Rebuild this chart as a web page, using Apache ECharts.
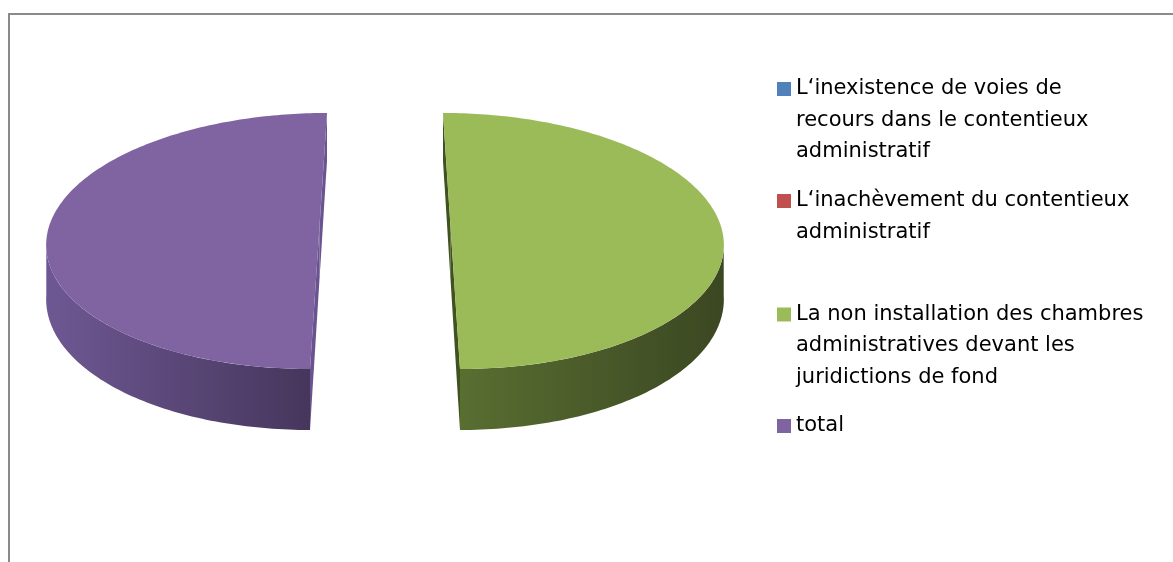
<!DOCTYPE html>
<html>
<head>
<meta charset="utf-8">
<script src="https://cdn.jsdelivr.net/npm/echarts@6/dist/echarts.min.js"></script>
<style>
html,body{margin:0;padding:0;background:#fff;}
#main{width:1173px;height:562px;}
</style>
</head>
<body>
<div id="main"></div>
<script>
// ---- data ----
const categories = [
  'L\u2018inexistence de voies de recours dans le contentieux administratif',
  'L\u2018inachèvement du contentieux administratif',
  'La non installation des chambres administratives devant les juridictions de fond',
  'total'
];
const values = [0, 0, 100, 100];
const legendLabels = [
  'L\u2018inexistence de voies de\nrecours dans le contentieux\nadministratif',
  'L\u2018inachèvement du contentieux\nadministratif',
  'La non installation des chambres\nadministratives devant les\njuridictions de fond',
  'total'
];

// ---- styles ----
const topColors = ['#4F81BD', '#C0504D', '#9BBB59', '#8064A2'];
const sideColors = [
  ['#3e6594', '#2c486b'],
  ['#963f3c', '#6c2d2b'],
  ['#596e31', '#3b4722'],
  ['#6e5893', '#46365c']
];
const cutColors = ['#34557d', '#7e3432', '#3f5220', '#6a5490'];

// perspective pie geometry (layout only)
const P = {cx: 385, cy: 224.6, sx: 270, sy: 125.9, persp: 0.128, depth: 53.2, explode: 0.2422, start: 0};
const total = values.reduce((a, b) => a + b, 0);
const silA = Math.acos(-P.persp) * 180 / Math.PI; // silhouette angle of the side wall

function proj(X, Z, h) {
  const w = 1 / (1 + P.persp * Z);
  return [P.cx + P.sx * X * w, P.cy + (-P.sy * Z + P.depth * h) * w];
}
function rim(ox, oz, a, h) {
  const r = a * Math.PI / 180;
  return proj(ox + Math.sin(r), oz + Math.cos(r), h);
}
function arc(ox, oz, a0, a1, h) {
  const n = Math.max(2, Math.ceil(Math.abs(a1 - a0)));
  const pts = [];
  for (let k = 0; k <= n; k++) pts.push(rim(ox, oz, a0 + (a1 - a0) * k / n, h));
  return pts;
}

function renderSlice(i) {
  const v = values[i];
  if (!v) return null;
  let before = 0;
  for (let j = 0; j < i; j++) before += values[j];
  const s = P.start + before / total * 360;
  const e = s + v / total * 360;
  const mr = (s + e) / 2 * Math.PI / 180;
  const ox = P.explode * Math.sin(mr);
  const oz = P.explode * Math.cos(mr);
  const c0 = proj(ox, oz, 0), c1 = proj(ox, oz, 1);
  const children = [];
  // radial cut faces
  [s, e].forEach(a => {
    children.push({
      type: 'polygon',
      shape: {points: [c0, rim(ox, oz, a, 0), rim(ox, oz, a, 1), c1]},
      style: {fill: cutColors[i]}
    });
  });
  // outer side wall, front-facing part only
  [-360, 0, 360].forEach(off => {
    const lo = Math.max(s, silA + off), hi = Math.min(e, 360 - silA + off);
    if (hi > lo) {
      const pts = arc(ox, oz, lo, hi, 0).concat(arc(ox, oz, hi, lo, 1));
      children.push({
        type: 'polygon',
        shape: {points: pts},
        style: {
          fill: new echarts.graphic.LinearGradient(0, 0, 1, 0, [
            {offset: 0, color: sideColors[i][0]},
            {offset: 1, color: sideColors[i][1]}
          ])
        }
      });
    }
  });
  // top face
  children.push({
    type: 'polygon',
    shape: {points: [c0].concat(arc(ox, oz, s, e, 0))},
    style: {fill: topColors[i]}
  });
  return {type: 'group', children: children};
}

const series = categories.map((name, i) => ({
  type: 'custom',
  name: name,
  coordinateSystem: 'none',
  itemStyle: {color: topColors[i]},
  data: [values[i]],
  renderItem: function () { return renderSlice(i); }
}));

const L = 31.5;
const iconCenters = [89, 201, 314.5, 426];
const legends = categories.map((name, i) => {
  const n = legendLabels[i].split('\n').length;
  return {
    orient: 'vertical',
    left: 777,
    top: iconCenters[i] - (2 * n - 1) * L / 2,
    padding: 0,
    itemWidth: 14,
    itemHeight: 14,
    icon: 'rect',
    selectedMode: false,
    data: [name],
    formatter: function (nm) {
      const lbl = legendLabels[categories.indexOf(nm)];
      const k = lbl.split('\n').length;
      return '\n'.repeat(k - 1) + lbl;
    },
    textStyle: {
      fontFamily: 'DejaVu Sans',
      fontSize: 21,
      lineHeight: L,
      color: '#000'
    }
  };
});

const chart = echarts.init(document.getElementById('main'));
chart.setOption({
  animation: false,
  backgroundColor: '#fff',
  legend: legends,
  graphic: [{
    type: 'rect',
    silent: true,
    shape: {x: 9, y: 14, width: 1400, height: 800},
    style: {fill: 'none', stroke: '#8a8a8a', lineWidth: 2}
  }],
  series: series
});
</script>
</body>
</html>
